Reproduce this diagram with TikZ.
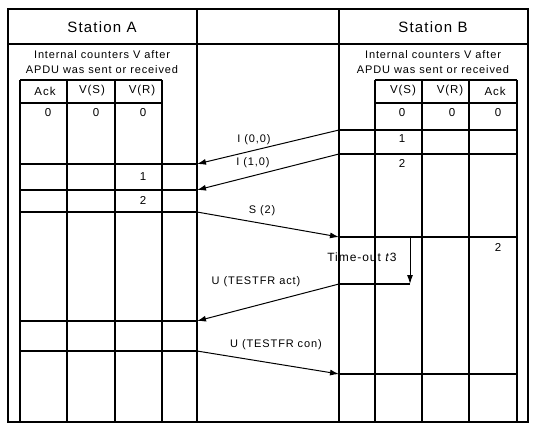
\documentclass[tikz,border=0pt]{standalone}
\usepackage{fontspec}
\setmainfont{Liberation Sans}[LetterSpace=8.0]
\usetikzlibrary{arrows.meta,positioning,calc}

\begin{document}
\begin{tikzpicture}[
    x=1pt, y=-1pt,
    frame/.style={draw, line width=1.9pt},
    grid/.style={draw, line width=1.1pt},
    msg/.style={draw, line width=1.0pt, -{Latex[length=9pt,width=6pt]}},
    title/.style={font=\fontsize{15}{18}\selectfont},
    txt/.style={font=\fontsize{11}{15}\selectfont, inner sep=1pt},
    cell/.style={font=\fontsize{11.5}{13}\selectfont, inner sep=0pt}
]
    \useasboundingbox (0,0) rectangle (535,430);
    % frame and station columns
    \draw[frame] (8,9) rectangle (528,422);
    \draw[grid] (8,44) -- (528,44);
    \draw[grid] (197,9) -- (197,422);
    \draw[grid] (339,9) -- (339,422);
    \node[title] (staA) at (102,27) {Station A};
    \node[title] (staB) at (433,27) {Station B};
    \node[txt, align=center] (capA) at (102,62) {Internal counters V after\\APDU was sent or received};
    \node[txt, align=center] (capB) at (433,62) {Internal counters V after\\APDU was sent or received};

    % counter table of station A
    \foreach \x in {20,67,115,162} \draw[grid] (\x,80) -- (\x,422);
    \draw[grid] (20,80) -- (162,80);
    \draw[grid] (20,103) -- (162,103);
    \foreach \y in {164,190,212,321,351} \draw[grid] (20,\y) -- (197,\y);
    \node[cell] (hAck) at (45,91) {Ack};
    \node[cell] (hVSa) at (92,91) {V(S)};
    \node[cell] (hVRa) at (142,91) {V(R)};
    \node[cell] (ackA0) at (48,113) {0};
    \node[cell] (vsA0) at (96,113) {0};
    \node[cell] (vrA0) at (143,113) {0};
    \node[cell] (vrA1) at (143,177) {1};
    \node[cell] (vrA2) at (143,200) {2};

    % counter table of station B
    \foreach \x in {375,422,469,517} \draw[grid] (\x,80) -- (\x,422);
    \draw[grid] (375,80) -- (517,80);
    \draw[grid] (375,103) -- (517,103);
    \foreach \y in {130,154,237,374} \draw[grid] (339,\y) -- (517,\y);
    \node[cell] (hVSb) at (403,91) {V(S)};
    \node[cell] (hVRb) at (450,91) {V(R)};
    \node[cell] (hAckb) at (495,91) {Ack};
    \node[cell] (vsB0) at (402,113) {0};
    \node[cell] (vrB0) at (452,113) {0};
    \node[cell] (ackB0) at (498,113) {0};
    \node[cell] (vsB1) at (402,139) {1};
    \node[cell] (vsB2) at (402,163) {2};
    \node[cell] (ackB2) at (498,247) {2};

    % message end points
    \coordinate (b1) at (339,130);
    \coordinate (a1) at (197,164);
    \coordinate (b2) at (339,154);
    \coordinate (a2) at (197,190);
    \coordinate (a3) at (197,212);
    \coordinate (b3) at (339,237);
    \coordinate (t0) at (410,237);
    \coordinate (t1) at (410,284);
    \coordinate (b4) at (339,284);
    \coordinate (a4) at (197,321);
    \coordinate (a5) at (197,351);
    \coordinate (b5) at (339,374);

    % messages
    \draw[msg] (b1) -- (a1);
    \draw[msg] (b2) -- (a2);
    \draw[msg] (a3) -- (b3);
    \draw[msg] (t0) -- (t1);
    \draw[grid] (t1) -- (b4);
    \draw[msg] (b4) -- (a4);
    \draw[msg] (a5) -- (b5);
    \node[txt] (lI00) at (254,140) {I (0,0)};
    \node[txt] (lI10) at (253,163) {I (1,0)};
    \node[txt] (lS2) at (262,211) {S (2)};
    \node[txt, font=\fontsize{12}{15}\selectfont] (lTime) at (362,257) {Time-out \textit{t}3};
    \node[txt] (lAct) at (256,282) {U (TESTFR act)};
    \node[txt] (lCon) at (276,345) {U (TESTFR con)};
\end{tikzpicture}
\end{document}
